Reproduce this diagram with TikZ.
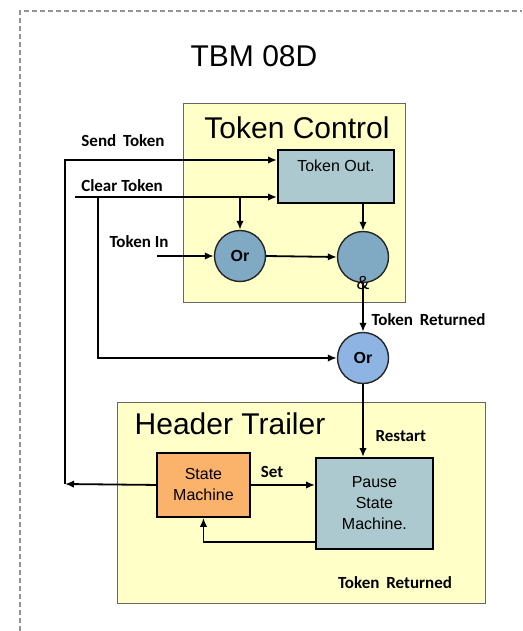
\documentclass[tikz,border=0pt]{standalone}
\usepackage{xcolor}
\usepackage{fontspec}
\setmainfont{Liberation Sans}
\newfontfamily\sigfont{Carlito}
\usepackage{tikz}
\usetikzlibrary{arrows.meta}
\usetikzlibrary{calc}

\definecolor{groupyellow}{HTML}{FFFFC8}
\definecolor{blockteal}{HTML}{ABC9CF}
\definecolor{blockorange}{HTML}{FBB36C}
\definecolor{gatesteel}{HTML}{80AAC4}
\definecolor{gateblue}{HTML}{8EB4E3}

\tikzset{
	frame/.style={draw=gray!85, line width=1.3pt, dash pattern=on 5pt off 3pt},
	group/.style={rectangle, draw=black!60, fill=groupyellow, line width=1.4pt, anchor=north west},
	heading/.style={font=\fontsize{30}{34}\selectfont},
	block/.style={rectangle, draw=black, line width=1.9pt, anchor=north west, align=center, font=\fontsize{16}{21}\selectfont},
	gate/.style={circle, draw=black!85, line width=1.4pt, minimum size=51pt, inner sep=0pt, font=\bfseries\fontsize{16}{18}\selectfont},
	sig/.style={font=\sigfont\bfseries\fontsize{17}{20}\selectfont},
	conn/.style={line width=1.8pt, ->}
}

\begin{document}
\begin{tikzpicture}[x=1pt, y=-1pt, >={Latex[length=9pt,width=7.5pt]}]
			\useasboundingbox (0,0) rectangle (522,631);
			%outer frame
			\draw [frame] (20,631) -- (20,11) -- (522,11);
			%title
			\node at (254,56) (title) [heading] {TBM 08D};

			%token control
			\node at (183,103) (tcbox) [group, minimum width=222pt, minimum height=199pt] {};
			\node at (297,128) (tctitle) [heading] {Token Control};
			\node at (277,149) (tokenout) [block, fill=blockteal, minimum width=116pt, minimum height=53pt, label={[anchor=north, yshift=-7pt, font=\fontsize{16}{21}\selectfont]north:Token Out.}] {};
			\node at (240,256) (or1) [gate, fill=gatesteel] {Or};
			\node at (363,257) (andg) [gate, fill=gatesteel] {};
			\node at (363,358) (or2) [gate, fill=gateblue] {Or};

			%header trailer
			\node at (117,402) (htbox) [group, minimum width=368pt, minimum height=201pt] {};
			\node at (230,424) (httitle) [heading] {Header Trailer};
			\node at (156,452) (sm) [block, fill=blockorange, minimum width=93pt, minimum height=64pt] {State\\Machine};
			\node at (315,457) (psm) [block, fill=blockteal, minimum width=117pt, minimum height=91pt] {Pause\\State\\Machine.};

			%signal names
			\node at (123,141) (sendlbl) [sig] {Send\hspace{3pt} Token};
			\node at (122,186) (clrlbl) [sig] {Clear Token};
			\node at (139,242) (inlbl) [sig] {Token In};
			\node [anchor=west] at (368,320) (retlbl) [sig] {Token\hspace{3pt} Returned};
			\node [anchor=west] at (372,436) (restartlbl) [sig] {Restart};
			\node at (272,472) (setlbl) [sig] {Set};
			\node at (395,583) (retlbl2) [sig] {Token\hspace{3pt} Returned};

			%wires
			\coordinate (leftbus) at (65,484);
			\coordinate (sendin) at (65,160);
			\coordinate (clrin) at (75,197);
			\coordinate (clrtap) at (98,197);
			\coordinate (tokin) at (157,256);

			\draw [conn] (leftbus) -- (sendin) -- (sendin -| tokenout.west);
			\draw [conn] (clrin) -- (clrin -| tokenout.west);
			\draw [conn] (or1.north |- clrin) -- (or1.north);
			\draw [conn] (clrtap) |- (or2.west);
			\draw [conn] (tokin) -- (or1.west);
			\draw [conn] (or1.east) -- (andg.west);
			\draw [conn] (andg.north |- tokenout.south) -- (andg.north);
			\draw [conn] (andg.south) -- (or2.north);
			\node at (363,283) (amp) [font=\fontsize{19}{19}\selectfont] {\&};
			\draw [conn] (or2.south) -- (or2.south |- psm.north);
			\draw [conn] (sm.east) -- (sm.east -| psm.west);
			\coordinate (fb) at ($(psm.south west)+(0,-8)$);
			\draw [conn] (fb) -| (sm.south);
			\draw [conn] (sm.west) -- (leftbus);
\end{tikzpicture}
\end{document}
